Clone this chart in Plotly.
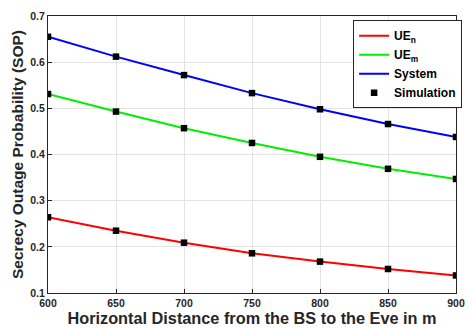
import plotly.graph_objects as go

distance = [600, 650, 700, 750, 800, 850, 900]
sop_ue_n = [0.264, 0.235, 0.209, 0.186, 0.168, 0.152, 0.138]
sop_ue_m = [0.531, 0.493, 0.457, 0.425, 0.395, 0.369, 0.347]
sop_system = [0.655, 0.612, 0.572, 0.533, 0.498, 0.466, 0.438]

font_family = "Liberation Sans, Arial, sans-serif"

fig = go.Figure()
fig.add_trace(go.Scatter(x=distance, y=sop_ue_n, mode="lines", name="UE<sub>n</sub>",
                         line=dict(color="#ff0000", width=2)))
fig.add_trace(go.Scatter(x=distance, y=sop_ue_m, mode="lines", name="UE<sub>m</sub>",
                         line=dict(color="#00ee00", width=2)))
fig.add_trace(go.Scatter(x=distance, y=sop_system, mode="lines", name="System",
                         line=dict(color="#0000ff", width=2)))
sim_x = distance * 3
sim_y = sop_ue_n + sop_ue_m + sop_system
fig.add_trace(go.Scatter(x=sim_x, y=sim_y, mode="markers", name="Simulation",
                         marker=dict(symbol="square", color="black", size=6.5)))

axis_common = dict(
    showline=True, linecolor="#262626", linewidth=1, mirror=True,
    ticks="inside", ticklen=4, tickcolor="#262626",
    showgrid=True, gridcolor="#e3e3e3", gridwidth=1,
    zeroline=False, automargin=False,
    tickfont=dict(family=font_family, size=10.5, color="#262626", weight="bold"),
)

fig.update_layout(
    width=472, height=328,
    margin=dict(l=48, r=10, t=16, b=35),
    paper_bgcolor="white", plot_bgcolor="white",
    font=dict(family=font_family, color="#262626"),
    xaxis=dict(range=[600, 900], tickvals=distance, **axis_common,
               title=dict(text="<b>Horizontal Distance from the BS to the Eve in m</b>",
                          font=dict(family=font_family, size=16.3, color="#262626"),
                          standoff=1)),
    yaxis=dict(range=[0.1, 0.7], tickvals=[0.1, 0.2, 0.3, 0.4, 0.5, 0.6, 0.7],
               tickformat=".1f", **axis_common,
               title=dict(text="<b>Secrecy Outage Probability (SOP)</b>",
                          font=dict(family=font_family, size=15.5, color="#262626"),
                          standoff=2)),
    legend=dict(x=1.015, y=0.985, xanchor="right", yanchor="top",
                bgcolor="white", bordercolor="#262626", borderwidth=1,
                font=dict(family=font_family, size=12, color="black", weight="bold"),
                tracegroupgap=0, itemwidth=30),
    showlegend=True,
)

fig.write_html("out.html")
